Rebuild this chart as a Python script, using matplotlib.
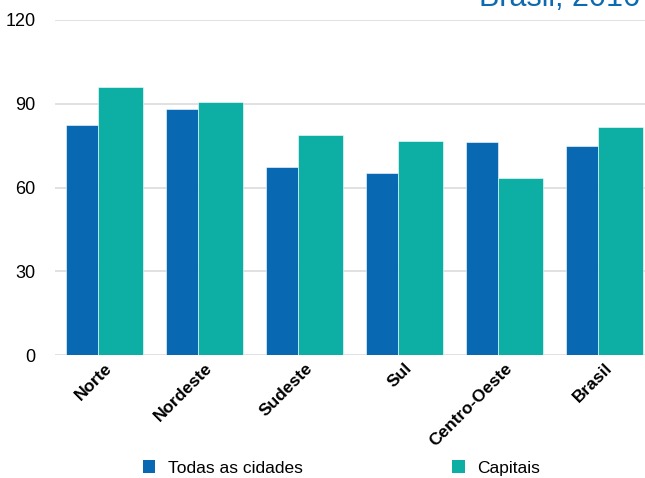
import matplotlib
matplotlib.use("Agg")
import matplotlib.pyplot as plt
from matplotlib.patches import Patch
import numpy as np

# Regiões e valores por série
regioes = ['Norte', 'Nordeste', 'Sudeste', 'Sul', 'Centro-Oeste', 'Brasil']
todas_cidades = [82.4, 88.1, 67.4, 65.2, 76.3, 74.9]
capitais = [96.0, 90.6, 78.8, 76.7, 63.4, 81.7]
yticks = [0, 30, 60, 90, 120]

cor_todas = '#0868B2'
cor_capitais = '#0DAFA5'
cor_grade = '#D9D9D9'

fig = plt.figure(figsize=(6.45, 4.78), dpi=100)
ax = fig.add_axes([55 / 645, 1 - 355 / 478, 590 / 645, 335 / 478])

x = np.arange(len(regioes))
larg_a, larg_b = 0.32, 0.45
inicio = x - (larg_a + larg_b) / 2
ax.bar(inicio, todas_cidades, width=larg_a, align='edge', color=cor_todas,
       edgecolor='white', linewidth=0.4, zorder=3)
ax.bar(inicio + larg_a, capitais, width=larg_b, align='edge', color=cor_capitais,
       edgecolor='white', linewidth=0.4, zorder=3)

ax.set_xlim(-0.495, len(regioes) - 0.595)
ax.set_ylim(0, 120)
ax.set_yticks(yticks)
ax.set_yticklabels([str(v) for v in yticks], fontfamily='Liberation Sans', fontsize=13)
ax.yaxis.grid(True, color=cor_grade, linewidth=1.1, zorder=0)
ax.tick_params(axis='y', length=0, pad=14)
ax.tick_params(axis='x', length=0, pad=4)
for s in ax.spines.values():
    s.set_visible(False)

ax.set_xticks(x)
ax.set_xticklabels(regioes, rotation=45, ha='right', rotation_mode='anchor',
                   fontfamily='Liberation Sans', fontweight='bold', fontsize=12.5)

# título parcialmente cortado no topo
fig.text(0.992, 1 - 6 / 478, 'Brasil, 2016', ha='right', va='baseline',
         fontfamily='Liberation Sans', fontsize=22, color='#0B6AB0')

handles = [Patch(facecolor=cor_todas, label='Todas as cidades'),
           Patch(facecolor=cor_capitais, label='Capitais')]
fig.legend(handles=handles, loc='center left', bbox_to_anchor=(143 / 645, 1 - 468 / 478),
           ncol=2, frameon=False, borderpad=0, borderaxespad=0,
           handlelength=0.7, handleheight=0.7, handletextpad=0.75,
           columnspacing=8.6,
           prop={'family': 'Liberation Sans', 'size': 12.5})

fig.savefig('out.png', dpi=100)
